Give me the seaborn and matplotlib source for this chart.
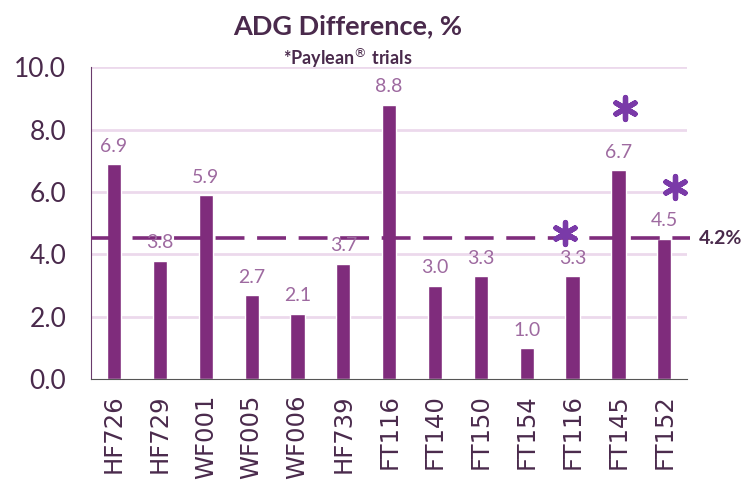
import matplotlib
matplotlib.use("Agg")
import matplotlib.pyplot as plt
import seaborn as sns
import pandas as pd

# data
trials = ["HF726", "HF729", "WF001", "WF005", "WF006", "HF739", "FT116",
          "FT140", "FT150", "FT154", "FT116", "FT145", "FT152"]
adg_diff = [6.9, 3.8, 5.9, 2.7, 2.1, 3.7, 8.8, 3.0, 3.3, 1.0, 3.3, 6.7, 4.5]
paylean = [False, False, False, False, False, False, False,
           False, False, False, True, True, True]
star_y = [0, 0, 0, 0, 0, 0, 0, 0, 0, 0, 4.68, 8.69, 6.15]
star_dx = [0, 0, 0, 0, 0, 0, 0, 0, 0, 0, -0.17, 0.15, 0.24]
avg_line = 4.52
avg_label = "4.2%"

bar_col = "#7f2c7c"
lbl_col = "#9e6aa0"
txt_col = "#4a2a4c"
star_col = "#7a3aa8"
grid_col = "#ecd9ec"

sns.set_style("white")
plt.rcParams["font.family"] = ["Lato", "DejaVu Sans"]

df = pd.DataFrame({"key": [str(i) for i in range(len(trials))],
                   "value": adg_diff})

fig = plt.figure(figsize=(7.47, 4.8), dpi=100)
ax = fig.add_axes([0.122, 0.21, 0.798, 0.65])

sns.barplot(data=df, x="key", y="value", color=bar_col, width=0.31,
            saturation=1, ax=ax, zorder=2)

ax.set_ylim(0, 10)
ax.set_xlim(-0.5, len(trials) - 0.5)
ax.set_yticks([0, 2, 4, 6, 8, 10])
ax.set_yticklabels([f"{v:.1f}" for v in [0, 2, 4, 6, 8, 10]],
                   fontsize=19, color=txt_col)
ax.set_xticks(range(len(trials)))
ax.set_xticklabels(trials, rotation=90, fontsize=17.5, color=txt_col,
                   family=["DejaVu Sans"])
ax.tick_params(axis="x", length=0, pad=11)
ax.tick_params(axis="y", length=0, pad=18)
ax.set_xlabel("")
ax.set_ylabel("")

for y in [2, 4, 6, 8, 10]:
    ax.axhline(y, color=grid_col, lw=2, zorder=0)

for s in ["top", "right"]:
    ax.spines[s].set_visible(False)
ax.spines["left"].set_color("#6a3a6c")
ax.spines["bottom"].set_color("#555555")

# value labels
for i, v in enumerate(adg_diff):
    ax.text(i, v + 0.3, f"{v:.1f}", ha="center", va="bottom",
            fontsize=14, color=lbl_col, zorder=4)

# average line
ax.plot([-0.5, len(trials) - 0.45], [avg_line, avg_line], color=bar_col,
        lw=2.6, dashes=(8, 3.5), zorder=3, clip_on=False)
ax.text(len(trials) - 0.25, avg_line, avg_label, ha="left", va="center",
        fontsize=14, fontweight="bold", color=txt_col)

# Paylean markers
sx = [i + d for i, (p, d) in enumerate(zip(paylean, star_dx)) if p]
sy = [y for p, y in zip(paylean, star_y) if p]
ax.scatter(sx, sy, marker=(6, 2, 0), s=250, linewidths=3.8,
           color=star_col, zorder=5, clip_on=False)

fig.text(0.465, 0.945, "ADG Difference, %", ha="center", va="center",
         fontsize=19.5, fontweight="bold", color=txt_col)
fig.text(0.465, 0.878, "*Paylean$^{\u00ae}$ trials", ha="center", va="center",
         fontsize=13, fontweight="bold", color=txt_col)

fig.savefig("out.png", dpi=100)
